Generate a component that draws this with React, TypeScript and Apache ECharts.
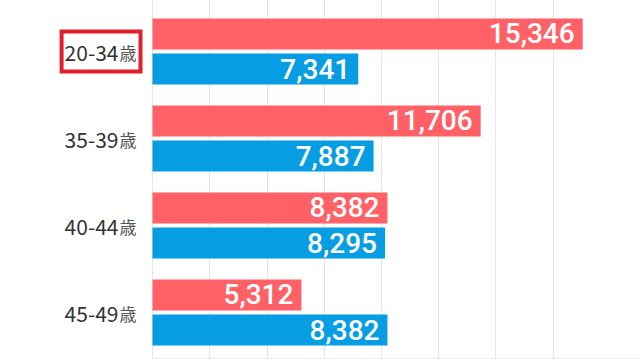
import React, { useEffect, useRef } from "react";
import * as echarts from "echarts";

const categories = ["20-34歳", "35-39歳", "40-44歳", "45-49歳"];
const redValues = [15346, 11706, 8382, 5312];
const blueValues = [7341, 7887, 8295, 8382];
const highlighted = "20-34歳";

const AXIS_INTERVAL = 2040;
const AXIS_MAX = 17390;

export default function App() {
  const ref = useRef<HTMLDivElement>(null);
  useEffect(() => {
    if (!ref.current) return;
    const chart = echarts.init(ref.current, null, { renderer: "svg" });
    const fmt = (v: number) => v.toLocaleString("en-US");
    const valueLabel = {
      show: true,
      position: "insideRight",
      distance: 8,
      color: "#ffffff",
      fontSize: 28,
      fontFamily: "Roboto",
      fontWeight: 500,
      formatter: (p: any) => fmt(p.value),
    };
    const g = "#e6e6e6";
    const option = {
      animation: false,
      backgroundColor: "#ffffff",
      grid: [
        { left: 152.5, right: 0, top: 8, bottom: 4 },
        { left: 152.5, right: 0, top: 0, bottom: 2 },
      ],
      xAxis: [
        {
          type: "value",
          gridIndex: 0,
          min: 0,
          max: AXIS_MAX,
          interval: AXIS_INTERVAL,
          axisLabel: { show: false },
          axisTick: { show: false },
          axisLine: { show: false },
          splitLine: { show: false },
        },
        {
          type: "value",
          gridIndex: 1,
          min: 0,
          max: AXIS_MAX,
          interval: AXIS_INTERVAL,
          axisLabel: { show: false },
          axisTick: { show: false },
          axisLine: { show: true, lineStyle: { color: "#ececec", width: 1 } },
          splitLine: {
            show: true,
            lineStyle: {
              color: [g, g, g, g, g, g, g, g, "rgba(0,0,0,0)", "rgba(0,0,0,0)"],
              width: 1,
            },
          },
        },
      ],
      yAxis: [
        {
          type: "category",
          gridIndex: 0,
          inverse: true,
          data: categories.map((c) =>
            c === highlighted
              ? {
                  value: c,
                  textStyle: {
                    borderColor: "#e0202a",
                    borderWidth: 4,
                    padding: [8, 4, 8, 3],
                  },
                }
              : { value: c }
          ),
          axisLine: { show: false },
          axisTick: { show: false },
          axisLabel: {
            margin: 12,
            padding: [8, 4, 8, 3],
            formatter: (v: string) => `{n|${v.slice(0, -1)}}{u|${v.slice(-1)}}`,
            rich: {
              n: {
                fontSize: 21,
                fontFamily: "Noto Sans CJK JP",
                color: "#333333",
                lineHeight: 24,
              },
              u: {
                fontSize: 17,
                fontFamily: "Noto Sans CJK JP",
                color: "#555555",
                lineHeight: 24,
                padding: [2, 0, 0, 1],
              },
            },
          },
        },
        {
          type: "value",
          gridIndex: 1,
          min: 0,
          max: 1,
          show: false,
        },
      ],
      series: [
        {
          name: "系列1",
          type: "bar",
          xAxisIndex: 0,
          yAxisIndex: 0,
          data: redValues,
          barWidth: 31,
          barGap: "13%",
          itemStyle: { color: "#ff6166" },
          label: valueLabel,
        },
        {
          name: "系列2",
          type: "bar",
          xAxisIndex: 0,
          yAxisIndex: 0,
          data: blueValues,
          barWidth: 31,
          barGap: "13%",
          itemStyle: { color: "#079de3" },
          label: valueLabel,
        },
      ],
    };
    chart.setOption(option as any);
    return () => chart.dispose();
  }, []);
  return (
    <div
      ref={ref}
      style={{ position: "fixed", left: 0, top: 0, width: 640, height: 360 }}
    />
  );
}
